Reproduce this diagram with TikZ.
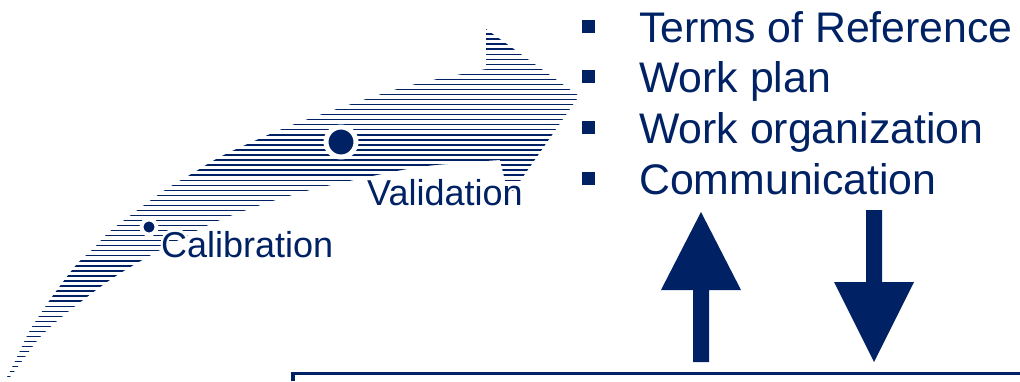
\documentclass[tikz,border=0pt]{standalone}
\usepackage{fontspec}
\newfontfamily\arial{Liberation Sans}
\usepackage{contour}
\contourlength{2.2pt}
\definecolor{navy}{RGB}{0,34,100}
\begin{document}
\begin{tikzpicture}[x=1pt,y=-1pt,
  hatch/.style={navy,line width=1.35pt},
  lbl/.style={anchor=base west,inner sep=0pt,text=navy,font=\arial\fontsize{36}{40}\selectfont},
  item/.style={anchor=base west,inner sep=0pt,text=navy,font=\arial\fontsize{42.8}{46}\selectfont},
  bul/.style={fill=navy,draw=none,minimum size=13pt,inner sep=0pt},
  dot/.style={circle,fill=navy,draw=white,inner sep=0pt},
  blk/.style={fill=navy,draw=none}]
\useasboundingbox (0,0) rectangle (1020,381);
% hatched curved arrow
\begin{scope}
\clip plot[smooth,tension=0.6] coordinates {(3,381) (7,377) (17,357) (29,332) (43,310) (57,290) (77,264) (93,249) (108,233) (127,218) (147,203) (168,188) (193,173) (220,157) (252,142) (287,127) (328,112) (394,90) (433,80) (457,75) (486,69)}
  -- (486,29) -- (579,96) -- (509,197) -- (500,160)
  -- plot[smooth,tension=0.6] coordinates {(500,160) (460,163) (413,168) (340,183) (299,193) (252,208) (200,229) (127,269) (83,300) (45,332) (25,357) (10,377) (3,381)} -- cycle;
\foreach \i in {0,...,70} {
  \draw[hatch] (0,{29+\i*5.04}) -- (600,{29+\i*5.04});
}
\end{scope}
% milestones
\node[dot,minimum size=30pt,line width=5pt] (vdot) at (341,142) {};
\node[dot,minimum size=15pt,line width=4pt] (cdot) at (149,227) {};
\node[lbl] (val) at (367,205) {\contour{white}{Validation}};
\node[lbl] (cal) at (161,257) {\contour{white}{Calibration}};
% bullet list
\node[bul] (b1) at (588,26) {};
\node[bul] (b2) at (588,76) {};
\node[bul] (b3) at (588,127) {};
\node[bul] (b4) at (588,178) {};
\node[item] (t1) at (639,42) {Terms of Reference};
\node[item] (t2) at (639,92) {Work plan};
\node[item] (t3) at (639,143) {Work organization};
\node[item] (t4) at (639,194) {Communication};
% block arrows
\coordinate (uptip) at (701,212);
\coordinate (dntip) at (874,362);
\fill[blk] (uptip) -- (741,290) -- (709,290) -- (709,362) -- (693,362) -- (693,290) -- (661,290) -- cycle;
\fill[blk] (dntip) -- (914,282) -- (882,282) -- (882,210) -- (866,210) -- (866,282) -- (834,282) -- cycle;
% bottom frame
\coordinate (fa) at (293,381);
\coordinate (fb) at (293,373.5);
\coordinate (fc) at (1020,373.5);
\draw[navy,line width=3.5pt] (fa) -- (fb) -- (fc);
\end{tikzpicture}
\end{document}
